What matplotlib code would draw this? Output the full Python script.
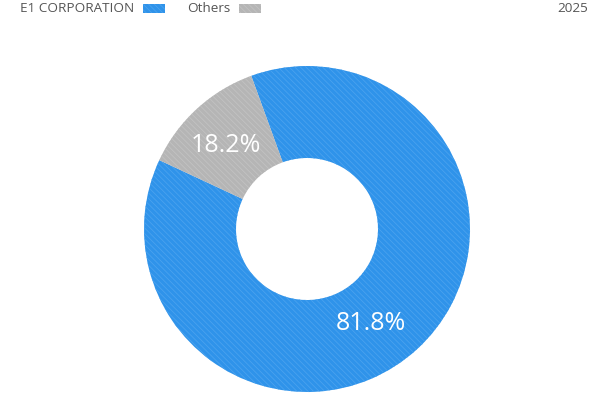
import numpy as np
import matplotlib.pyplot as plt

plt.rcParams['font.family'] = ['Open Sans', 'DejaVu Sans']
plt.rcParams['hatch.linewidth'] = 0.6

categories = ['E1 CORPORATION', 'Others']
share_labels = [81.8, 18.2]
# arc sizes as drawn in the picture (the wedges do not follow the labels exactly)
arc_share = [87.5, 12.5]
year = '2025'
colors = ['#2f93ea', '#b5b5b5']
hatch_colors = ['#4aa2ee', '#c2c2c2']

W, H = 615, 409
fig = plt.figure(figsize=(W / 100, H / 100), dpi=100)
ax = fig.add_axes([0, 0, 1, 1])
ax.set_xlim(0, W)
ax.set_ylim(0, H)
ax.set_aspect('equal')
ax.axis('off')

cx, cy, r_out, r_in = 307, H - 229, 163, 71
wedges, _ = ax.pie(arc_share, colors=colors, startangle=155, counterclock=True,
                   center=(cx, cy), radius=r_out,
                   wedgeprops=dict(width=r_out - r_in, linewidth=0))
for w, hc in zip(wedges, hatch_colors):
    w.set_hatch('\\\\\\\\\\\\')
    w.set_edgecolor(hc)
    w.set_linewidth(0)
ax.set_xlim(0, W)
ax.set_ylim(0, H)

# percentage labels
label_pos = [(-55.9, 114), (134.1, 116.3)]
for val, (ang, rr) in zip(share_labels, label_pos):
    a = np.deg2rad(ang)
    ax.text(cx + rr * np.cos(a), cy + rr * np.sin(a), f'{val}%', color='white',
            fontsize=18, ha='center', va='center')

# legend
lx = [20, 187]
sx = [143, 239]
for name, x0, s0, c, hc in zip(categories, lx, sx, colors, hatch_colors):
    ax.text(x0, H - 8, name, fontsize=9.7, color='#555555', ha='left', va='center')
    ax.add_patch(plt.Rectangle((s0, H - 12.5), 22, 9, facecolor=c, edgecolor=hc,
                               hatch='\\\\\\\\\\\\', linewidth=0))
ax.text(588, H - 8, year, fontsize=9.7, color='#555555', ha='right', va='center')

fig.savefig('out.png', dpi=100)
